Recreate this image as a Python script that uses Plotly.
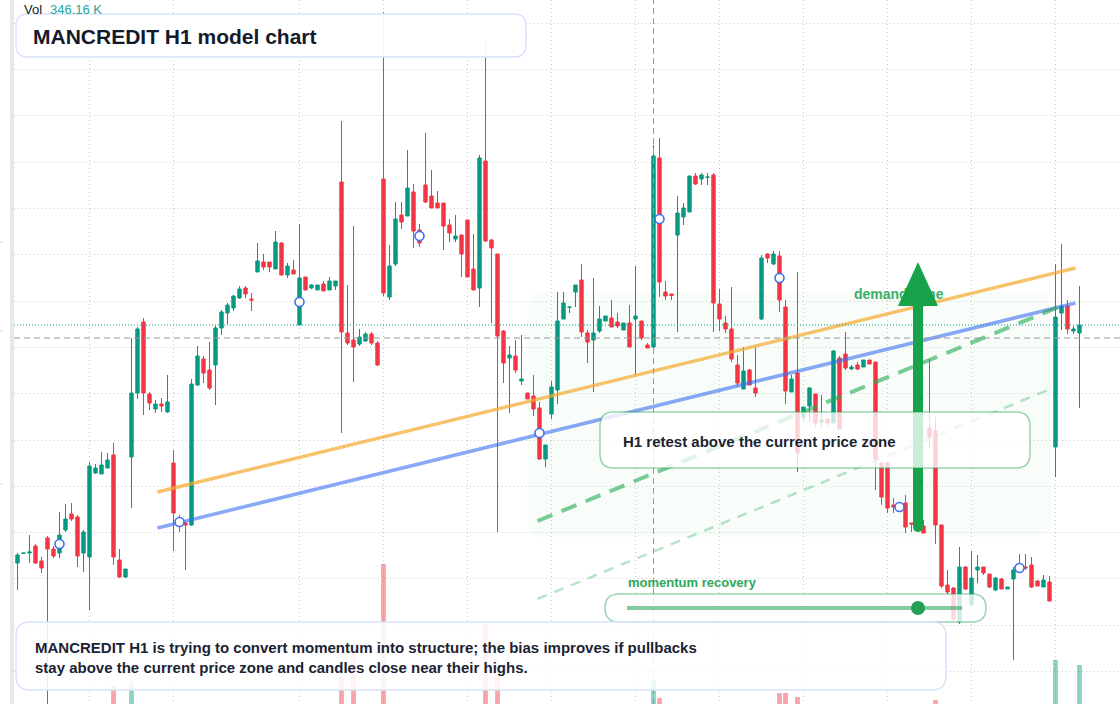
import plotly.graph_objects as go

W, H = 1120, 704
UP, DOWN = "#089981", "#f23645"
FONT = "Liberation Sans, Arial, sans-serif"

# ---------------- data (price units) ----------------
open_ = [43.7, 44.65, 44.7, 45.4, 43.9, 46.2, 45.1, 44.7, 47.0, 48.6,
         48.3, 44.7, 44.3, 52.7, 52.6, 53.2, 54.5, 44.0, 42.3, 54.3,
         60.7, 67.8, 60.6, 59.1, 59.6, 58.8, 53.7, 47.7, 47.7, 47.5,
         61.5, 64.1, 63.0, 63.5, 67.2, 68.7, 69.2, 70.2, 71.2, 70.1,
         72.8, 73.8, 73.8, 73.1, 75.7, 72.5, 73.0, 67.5, 72.3, 71.2,
         71.0, 71.6, 71.0, 71.4, 81.8, 66.7, 66.0, 65.6, 65.9, 66.6,
         65.7, 82.1, 70.3, 73.6, 78.5, 78.4, 80.8, 77.0, 81.5, 80.4,
         79.7, 79.7, 77.5, 76.1, 76.5, 78.0, 73.1, 71.2, 83.9, 76.0,
         74.6, 66.9, 64.2, 64.4, 61.9, 60.7, 60.4, 59.2, 54.1, 58.6,
         61.0, 68.1, 69.25, 70.8, 72.0, 66.7, 66.0, 66.9, 67.9, 68.2,
         67.8, 67.0, 67.7, 68.1, 67.9, 65.5, 65.3, 84.2, 70.8, 70.6,
         76.5, 78.3, 78.8, 82.4, 82.1, 82.25, 82.5, 69.6, 67.7, 67.1,
         63.5, 61.1, 63.0, 61.2, 68.1, 74.6, 73.6, 74.4, 69.3, 60.8,
         62.7, 58.3, 59.4, 60.6, 57.8, 58.1, 57.7, 64.2, 64.6, 63.1,
         63.5, 63.3, 64.0, 63.8, 53.7, 53.7, 49.5, 49.5, 49.7, 47.7,
         47.4, 47.4, 57.2, 56.9, 47.5, 41.5, 41.2, 37.8, 43.3, 39.5,
         43.0, 43.3, 42.6, 41.0, 42.1, 41.1, 42.1, 43.3, 43.3, 43.5,
         41.9, 41.3, 41.8, 55.3, 68.7, 69.4, 66.9, 66.7]
high = [44.7, 44.7, 46.5, 45.6, 44.3, 46.4, 45.4, 48.8, 49.6, 49.7,
        48.5, 47.0, 53.8, 53.6, 54.8, 54.7, 55.7, 45.1, 43.1, 66.2,
        67.3, 68.2, 60.8, 60.0, 60.2, 62.5, 55.0, 48.5, 47.8, 62.1,
        65.4, 64.4, 65.8, 67.4, 69.0, 69.7, 70.5, 71.4, 71.4, 70.7,
        75.7, 74.6, 73.8, 76.9, 75.8, 73.7, 74.0, 77.6, 72.3, 71.6,
        71.5, 71.9, 72.3, 71.9, 87.9, 71.5, 77.4, 67.1, 66.8, 66.8,
        65.9, 98.8, 75.5, 79.8, 79.8, 85.0, 81.6, 77.6, 86.7, 83.0,
        80.9, 79.7, 78.1, 78.5, 76.5, 78.0, 76.6, 84.5, 96.0, 76.1,
        74.6, 67.0, 65.4, 66.0, 66.5, 60.7, 62.5, 59.8, 55.5, 61.9,
        70.8, 70.8, 69.3, 71.5, 73.6, 67.0, 72.2, 69.4, 68.4, 70.0,
        68.7, 67.7, 69.5, 73.4, 67.9, 65.7, 85.5, 86.2, 71.9, 70.6,
        80.4, 79.7, 82.4, 82.7, 82.7, 82.7, 82.7, 71.1, 68.4, 71.3,
        64.5, 65.3, 63.1, 65.3, 74.5, 74.7, 74.9, 74.9, 70.0, 62.5,
        72.8, 59.3, 61.3, 60.6, 60.5, 58.1, 65.0, 64.4, 66.8, 63.5,
        63.8, 64.0, 64.0, 63.8, 53.8, 53.8, 50.2, 49.7, 50.5, 47.7,
        47.6, 48.0, 64.1, 58.3, 47.5, 43.0, 41.3, 45.3, 43.4, 44.9,
        44.5, 43.3, 42.6, 42.3, 42.2, 41.3, 43.3, 44.6, 44.6, 44.3,
        42.0, 42.5, 42.4, 73.6, 75.6, 70.0, 67.4, 71.4]
low = [41.0, 44.6, 43.7, 43.6, 42.7, 29.0, 44.2, 44.2, 46.8, 47.9,
       43.3, 42.8, 39.0, 52.6, 52.6, 53.2, 43.5, 42.2, 42.2, 49.2,
       60.1, 58.5, 59.0, 58.7, 58.8, 58.7, 44.9, 46.8, 43.0, 47.4,
       61.4, 61.7, 61.0, 59.5, 66.5, 67.6, 68.9, 70.1, 70.2, 68.9,
       72.8, 73.0, 72.8, 73.1, 72.5, 72.2, 72.6, 67.5, 71.0, 71.1,
       71.0, 70.9, 71.0, 71.0, 56.7, 65.5, 61.8, 65.4, 65.8, 65.5,
       63.4, 70.4, 70.0, 73.4, 77.1, 78.4, 75.2, 75.3, 79.7, 79.2,
       79.2, 75.0, 75.8, 75.8, 72.3, 72.3, 71.0, 69.3, 75.8, 67.7,
       46.8, 61.7, 58.7, 62.7, 61.5, 60.1, 58.4, 54.0, 53.3, 58.1,
       59.6, 68.1, 68.7, 69.3, 66.3, 63.7, 60.8, 66.7, 67.9, 67.3,
       67.2, 67.0, 65.3, 62.5, 66.0, 65.2, 65.2, 70.3, 70.0, 70.0,
       66.8, 77.5, 78.8, 81.5, 81.5, 81.5, 66.8, 66.9, 66.7, 63.8,
       61.3, 61.1, 61.5, 60.3, 68.0, 73.7, 73.5, 68.8, 59.6, 60.8,
       52.8, 57.8, 57.8, 57.3, 57.3, 57.3, 57.7, 57.1, 63.0, 63.0,
       63.0, 63.3, 63.6, 51.0, 49.5, 48.7, 48.7, 49.1, 46.7, 46.8,
       47.0, 46.7, 55.2, 45.6, 41.2, 40.6, 37.9, 37.6, 41.0, 39.4,
       41.7, 42.5, 41.2, 40.9, 41.1, 41.1, 34.0, 43.0, 43.0, 41.2,
       41.4, 41.3, 39.9, 52.3, 67.0, 66.6, 66.6, 59.2]
close = [44.5, 44.7, 44.8, 43.7, 43.2, 45.1, 44.4, 46.5, 48.1, 48.1,
         44.4, 46.8, 53.4, 53.2, 53.5, 54.0, 44.3, 42.3, 43.1, 60.7,
         67.1, 60.7, 59.7, 59.6, 59.4, 59.8, 48.7, 47.5, 47.5, 61.6,
         64.4, 62.7, 61.2, 67.2, 68.8, 69.5, 70.4, 71.1, 70.6, 70.0,
         73.9, 73.3, 73.3, 75.8, 72.5, 73.4, 72.6, 72.2, 71.0, 71.5,
         71.5, 70.9, 71.9, 71.9, 66.8, 65.7, 65.3, 66.3, 66.6, 65.7,
         63.5, 70.7, 73.4, 78.1, 77.8, 81.2, 76.9, 75.7, 79.8, 79.2,
         79.2, 77.4, 76.7, 76.4, 74.6, 72.3, 71.0, 84.2, 75.9, 75.2,
         66.4, 63.7, 64.5, 63.0, 62.1, 60.1, 59.1, 54.1, 55.5, 61.3,
         67.9, 69.7, 69.3, 71.5, 66.8, 65.8, 66.7, 68.1, 68.4, 67.3,
         67.4, 67.7, 65.3, 68.4, 66.2, 65.2, 84.4, 71.8, 70.4, 70.45,
         78.7, 79.2, 82.4, 81.6, 82.5, 82.3, 69.7, 68.1, 67.1, 64.1,
         61.7, 62.9, 61.5, 60.7, 74.2, 74.2, 74.6, 70.0, 60.9, 62.1,
         54.7, 59.3, 61.2, 57.7, 58.0, 57.7, 64.9, 57.1, 63.2, 63.3,
         63.1, 64.0, 63.6, 54.1, 50.3, 49.2, 49.3, 49.3, 47.3, 47.6,
         47.2, 46.7, 56.3, 47.5, 41.4, 40.8, 38.1, 43.3, 41.1, 42.2,
         43.3, 42.7, 41.3, 42.2, 41.1, 41.3, 43.0, 43.1, 43.2, 41.3,
         41.4, 42.0, 39.9, 68.3, 69.4, 67.1, 67.1, 67.5]
bars = list(range(len(open_)))

# volume (thousands) for the bars tall enough to show
vol_idx = [16, 19, 54, 56, 61, 78, 80, 106, 107, 127, 128, 130, 153, 173, 177]
vol_k = [160, 204, 240, 453, 1243, 710, 240, 213, 53, 98, 98, 62, 36, 391, 346.16]

# signal markers
signal_idx = [7, 27, 47, 67, 87, 107, 127, 147, 167]
signal_price = [45.6, 47.8, 69.8, 76.4, 56.7, 78.1, 72.2, 49.3, 43.2]

# trend lines (bar index, price)
orange_x, orange_y = [23.33, 176.33], [50.8, 73.2]
blue_x, blue_y = [23.33, 176.33], [47.2, 69.7]
green_x, green_y = [86.67, 173.5], [47.9, 69.3]
light_x, light_y = [86.67, 172.17], [40.1, 61.1]

# demand zone (bar index / price)
zone_x0, zone_x1, zone_lo, zone_hi = 85.0, 172.2, 46.3, 70.8

last_price = 67.5
cross_idx = 106
cross_price = 66.2
grid_idx = [12, 26, 47, 61, 75, 89, 103, 117, 131, 145, 159, 173]
last_vol_label = "346.16 K"

# ---------------- figure ----------------
fig = go.Figure()

vol_colors = ["rgba(8,153,129,0.45)" if close[i] >= open_[i] else "rgba(242,54,69,0.45)" for i in vol_idx]
fig.add_trace(go.Bar(x=vol_idx, y=vol_k, yaxis="y2", width=0.8,
                     marker=dict(color=vol_colors, line=dict(width=0)),
                     hoverinfo="skip", showlegend=False))

fig.add_trace(go.Candlestick(
    x=bars, open=open_, high=high, low=low, close=close,
    increasing=dict(line=dict(color=UP, width=1), fillcolor=UP),
    decreasing=dict(line=dict(color=DOWN, width=1), fillcolor=DOWN),
    hoverinfo="skip", showlegend=False))

fig.add_trace(go.Scatter(x=orange_x, y=orange_y, mode="lines",
                         line=dict(color="rgba(245,170,50,0.72)", width=3.5), hoverinfo="skip"))
fig.add_trace(go.Scatter(x=blue_x, y=blue_y, mode="lines",
                         line=dict(color="rgba(59,110,240,0.6)", width=3.5), hoverinfo="skip"))
fig.add_trace(go.Scatter(x=green_x, y=green_y, mode="lines",
                         line=dict(color="rgba(34,170,80,0.6)", width=4, dash="16px,10px"), hoverinfo="skip"))
fig.add_trace(go.Scatter(x=light_x, y=light_y, mode="lines",
                         line=dict(color="rgba(34,170,80,0.32)", width=2.5, dash="10px,8px"), hoverinfo="skip"))

fig.add_trace(go.Scatter(x=signal_idx, y=signal_price, mode="markers",
                         marker=dict(symbol="circle", size=9, color="white",
                                     line=dict(color="#3f6ff2", width=1.6)),
                         hoverinfo="skip"))


def P(x, y):
    return f"{x / W:.5f},{1 - y / H:.5f}"


def rrect(x0, y0, x1, y1, r):
    return (f"M{P(x0 + r, y0)} L{P(x1 - r, y0)} Q{P(x1, y0)} {P(x1, y0 + r)} "
            f"L{P(x1, y1 - r)} Q{P(x1, y1)} {P(x1 - r, y1)} L{P(x0 + r, y1)} "
            f"Q{P(x0, y1)} {P(x0, y1 - r)} L{P(x0, y0 + r)} Q{P(x0, y0)} {P(x0 + r, y0)} Z")


def rrect_data(x0, x1, ylo, yhi, rx, ry):
    def D(x, y):
        return f"{x},{y}"
    return (f"M{D(x0 + rx, yhi)} L{D(x1 - rx, yhi)} Q{D(x1, yhi)} {D(x1, yhi - ry)} "
            f"L{D(x1, ylo + ry)} Q{D(x1, ylo)} {D(x1 - rx, ylo)} L{D(x0 + rx, ylo)} "
            f"Q{D(x0, ylo)} {D(x0, ylo + ry)} L{D(x0, yhi - ry)} Q{D(x0, yhi)} {D(x0 + rx, yhi)} Z")


shapes = []
# demand zone
shapes.append(dict(type="path", xref="x", yref="y", layer="below",
                   path=rrect_data(zone_x0, zone_x1, zone_lo, zone_hi, 2.7, 1.6),
                   fillcolor="rgba(34,197,94,0.03)", line=dict(width=0)))
# left strip + stub ticks
shapes.append(dict(type="rect", xref="paper", yref="paper", x0=10 / W, x1=14 / W, y0=0, y1=1,
                   fillcolor="#e8e8e8", line=dict(width=0), layer="above"))
for ty in (242, 331, 484):
    shapes.append(dict(type="line", xref="paper", yref="paper", x0=0, x1=3 / W,
                       y0=1 - ty / H, y1=1 - ty / H, line=dict(color="#d6d6d6", width=1)))
# crosshair + last price line
shapes.append(dict(type="line", xref="x", yref="paper", x0=cross_idx, x1=cross_idx, y0=0, y1=1,
                   line=dict(color="#9598a1", width=1, dash="6px,4px"), layer="above"))
shapes.append(dict(type="line", xref="paper", yref="y", x0=14 / W, x1=1, y0=cross_price, y1=cross_price,
                   line=dict(color="#9598a1", width=1, dash="6px,4px"), layer="above"))
shapes.append(dict(type="line", xref="paper", yref="y", x0=14 / W, x1=1, y0=last_price, y1=last_price,
                   line=dict(color=UP, width=1, dash="1px,2px"), layer="above"))
# demand zone label (drawn below the arrow)
shapes.append(dict(type="rect", xref="paper", yref="paper", x0=851 / W, x1=990 / W,
                   y0=1 - 302 / H, y1=1 - 284 / H, line=dict(width=0), fillcolor="rgba(0,0,0,0)",
                   layer="above",
                   label=dict(text="<b>demand zone</b>", textposition="middle left", padding=0,
                              font=dict(family=FONT, size=14, color="#3aae66"))))
# big arrow
shapes.append(dict(type="path", xref="paper", yref="paper", layer="above",
                   path=(f"M{P(913, 302)} L{P(923, 302)} L{P(923, 526)} Q{P(923, 532)} {P(918, 532)} "
                         f"Q{P(913, 532)} {P(913, 526)} Z"),
                   fillcolor="#16a34a", line=dict(width=0)))
shapes.append(dict(type="path", xref="paper", yref="paper", layer="above",
                   path=f"M{P(898, 306)} L{P(918, 262)} L{P(938, 306)} Z",
                   fillcolor="#16a34a", line=dict(width=0)))
# H1 retest box
shapes.append(dict(type="path", xref="paper", yref="paper", layer="above",
                   path=rrect(600, 412, 1030, 468, 14),
                   fillcolor="rgba(255,255,255,0.78)", line=dict(color="rgba(34,160,80,0.45)", width=1.5)))
# momentum box
shapes.append(dict(type="path", xref="paper", yref="paper", layer="above",
                   path=rrect(605, 594, 986, 622, 14),
                   fillcolor="rgba(255,255,255,0.8)", line=dict(color="rgba(34,160,80,0.45)", width=1.5)))
shapes.append(dict(type="line", xref="paper", yref="paper", layer="above",
                   x0=627 / W, x1=962 / W, y0=1 - 608 / H, y1=1 - 608 / H,
                   line=dict(color="rgba(34,160,80,0.55)", width=4)))
shapes.append(dict(type="circle", xref="paper", yref="paper", layer="above",
                   x0=911 / W, x1=925 / W, y0=1 - 615 / H, y1=1 - 601 / H,
                   fillcolor="#22a055", line=dict(width=0)))
# bottom commentary box
shapes.append(dict(type="path", xref="paper", yref="paper", layer="above",
                   path=rrect(16, 622, 946, 690, 14),
                   fillcolor="rgba(255,255,255,0.86)", line=dict(color="#d7e4fb", width=1.5)))
# title box
shapes.append(dict(type="path", xref="paper", yref="paper", layer="above",
                   path=rrect(16, 14, 526, 57, 12),
                   fillcolor="rgba(255,255,255,0.93)", line=dict(color="#d7e4fb", width=1.5)))

annotations = [
    dict(text="Vol", x=22 / W, y=1 - 9 / H, xanchor="left", yanchor="middle",
         font=dict(family=FONT, size=13, color="#131722")),
    dict(text=last_vol_label, x=48 / W, y=1 - 9 / H, xanchor="left", yanchor="middle",
         font=dict(family=FONT, size=13, color="#26a69a")),
    dict(text="<b>MANCREDIT H1 model chart</b>", x=31 / W, y=1 - 36 / H, xanchor="left", yanchor="middle",
         font=dict(family=FONT, size=21, color="#131b2b")),
    dict(text="<b>H1 retest above the current price zone</b>", x=621 / W, y=1 - 441 / H,
         xanchor="left", yanchor="middle", font=dict(family=FONT, size=15, color="#1b2333")),
    dict(text="<b>momentum recovery</b>", x=626 / W, y=1 - 582 / H, xanchor="left", yanchor="middle",
         font=dict(family=FONT, size=13, color="#2fa85a")),
    dict(text=("<b>MANCREDIT H1 is trying to convert momentum into structure; the bias improves if pullbacks"
               "<br>stay above the current price zone and candles close near their highs.</b>"),
         x=33 / W, y=1 - 657 / H, xanchor="left", yanchor="middle", align="left",
         font=dict(family=FONT, size=15, color="#1b2333")),
]
for a in annotations:
    a.update(xref="paper", yref="paper", showarrow=False)

fig.update_layout(
    width=W, height=H, margin=dict(l=0, r=0, t=0, b=0),
    paper_bgcolor="white", plot_bgcolor="white", showlegend=False, boxgap=0.2,
    xaxis=dict(domain=[14 / W, 1], range=[-0.5833, 183.75], tickvals=grid_idx, showticklabels=False,
               ticks="", showgrid=True, gridcolor="#cccccc", griddash="1px,3px", gridwidth=1,
               zeroline=False, showline=False, rangeslider=dict(visible=False)),
    yaxis=dict(range=[29.6, 100], tick0=97.67, dtick=4.63, showticklabels=False, ticks="",
               showgrid=True, gridcolor="#cccccc", griddash="1px,3px", gridwidth=1,
               zeroline=False, showline=False),
    yaxis2=dict(overlaying="y", range=[0, 6249], visible=False),
    shapes=shapes, annotations=annotations,
)

fig.write_html("out.html", include_plotlyjs=True, full_html=True, config={"displayModeBar": False})
